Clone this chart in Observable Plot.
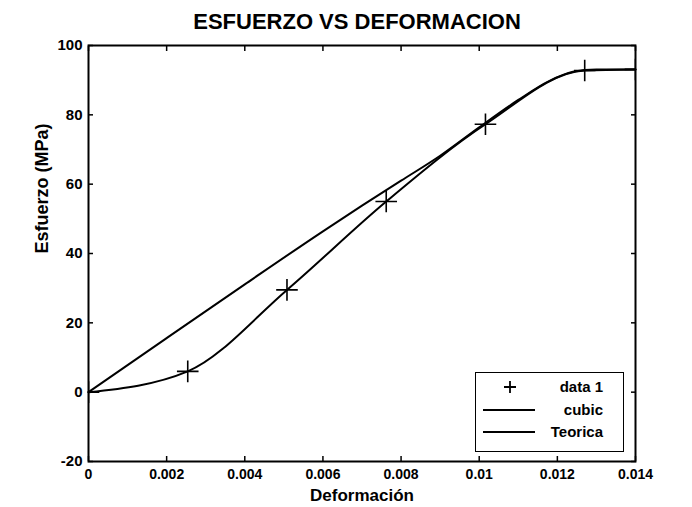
<!DOCTYPE html>
<html><head><meta charset="utf-8">
<script src="https://cdn.jsdelivr.net/npm/d3@7"></script>
<script src="https://cdn.jsdelivr.net/npm/@observablehq/plot@0.6"></script>
<style>
body{margin:0;background:#fff;}
#wrap{position:relative;width:692px;height:507px;font-family:"Liberation Sans",Arial,sans-serif;}
#legend{position:absolute;left:475px;top:372px;width:149px;height:80px;border:1.5px solid #000;background:#fff;box-sizing:border-box;font-weight:bold;font-size:15px;}
.row{position:absolute;left:0;width:100%;height:20px;}
.row svg{position:absolute;left:7px;top:0;}
.row span{position:absolute;right:20px;top:1px;line-height:18px;}
</style></head><body><div id="wrap"><div id="legend"></div></div>
<script>
// data 1 (measured points) – strain vs stress (MPa)
const strain = [0, 0.00254, 0.00508, 0.00762, 0.01016, 0.0127, 0.014];
const stress = [0, 6, 29.5, 55, 77.3, 92.8, 93.1];
// Teorica curve
const teoStrain = [0, 0.002, 0.004, 0.006, 0.007, 0.008, 0.009, 0.010, 0.011, 0.0118, 0.0124, 0.013, 0.014];
const teoStress = [0, 15.6, 31.1, 46.4, 53.8, 61, 68.2, 76.4, 84.3, 89.8, 92.4, 93.1, 93.1];
const xTicks = [0, 0.002, 0.004, 0.006, 0.008, 0.01, 0.012, 0.014];
const yTicks = [-20, 0, 20, 40, 60, 80, 100];
const legendLabels = ["data 1", "cubic", "Teorica"];
const titleText = "ESFUERZO VS DEFORMACION";
const xLabel = "Deformación";
const yLabel = "Esfuerzo (MPa)";

const data1 = strain.map((x, i) => ({x, y: stress[i]}));
const teo = teoStrain.map((x, i) => ({x, y: teoStress[i]}));
const fmt = d => String(+d.toFixed(3));
const tickStyle = {tickSize: -5, strokeWidth: 1.5};

const chart = Plot.plot({
  width: 692, height: 507,
  marginLeft: 88, marginRight: 57, marginTop: 45, marginBottom: 46,
  style: {fontFamily: "'Liberation Sans', Arial, sans-serif", fontWeight: "bold", fontSize: "15px", background: "#fff", color: "#000"},
  x: {domain: [0, 0.014]},
  y: {domain: [-20, 100]},
  marks: [
    Plot.line(teo, {x: "x", y: "y", curve: "monotone-x", stroke: "#000", strokeWidth: 2}),
    Plot.line(data1, {x: "x", y: "y", curve: "monotone-x", stroke: "#000", strokeWidth: 2}),
    Plot.dot(data1, {x: "x", y: "y", symbol: "plus", r: 7, stroke: "#000", strokeWidth: 1.6, clip: "frame"}),
    Plot.axisX(xTicks, {anchor: "bottom", ...tickStyle, tickPadding: 13, tickFormat: fmt, label: null, fontSize: 14, fontWeight: "bold"}),
    Plot.axisX(xTicks, {anchor: "top", ...tickStyle, tickFormat: () => "", label: null}),
    Plot.axisY(yTicks, {anchor: "left", ...tickStyle, tickPadding: 11, tickFormat: fmt, label: null, fontSize: 15, fontWeight: "bold"}),
    Plot.axisY(yTicks, {anchor: "right", ...tickStyle, tickFormat: () => "", label: null}),
    Plot.frame({stroke: "#000", strokeWidth: 2}),
    Plot.text([titleText], {frameAnchor: "top", text: d => d, dy: -32, dx: -5, fontSize: 22, fontWeight: "bold"}),
    Plot.text([xLabel], {frameAnchor: "bottom", text: d => d, dy: 39, fontSize: 17, fontWeight: "bold"}),
    Plot.text([yLabel], {frameAnchor: "left", text: d => d, dx: -46, rotate: -90, fontSize: 18, fontWeight: "bold"})
  ]
});
document.getElementById("wrap").prepend(chart);

// legend
const legend = document.getElementById("legend");
const rowTops = [4, 27, 49];
legendLabels.forEach((lab, i) => {
  const row = document.createElement("div");
  row.className = "row";
  row.style.top = rowTops[i] + "px";
  let sample;
  if (i === 0) {
    sample = '<svg width="52" height="20"><path d="M27,4V16M21,10H33" stroke="#000" stroke-width="1.8"/></svg>';
  } else {
    sample = '<svg width="52" height="20"><path d="M0,10H52" stroke="#000" stroke-width="2"/></svg>';
  }
  row.innerHTML = sample + '<span>' + lab + '</span>';
  legend.appendChild(row);
});
</script>
</body></html>
